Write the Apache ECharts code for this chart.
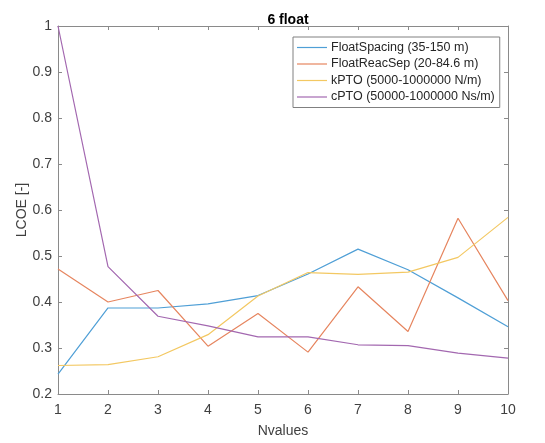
<!DOCTYPE html>
<html>
<head>
<meta charset="utf-8">
<script src="https://cdn.jsdelivr.net/npm/echarts@6/dist/echarts.min.js"></script>
<style>
  html, body { margin: 0; padding: 0; background: #fff; }
  #chart { width: 545px; height: 443px; }
</style>
</head>
<body>
<div id="chart"></div>
<script>
const nValues = [1, 2, 3, 4, 5, 6, 7, 8, 9, 10];
const floatSpacing = [0.243, 0.387, 0.387, 0.396, 0.414, 0.461, 0.515, 0.470, 0.409, 0.346];
const floatReacSep = [0.472, 0.400, 0.425, 0.304, 0.375, 0.291, 0.433, 0.336, 0.582, 0.403];
const kPTO = [0.262, 0.264, 0.281, 0.329, 0.413, 0.464, 0.460, 0.465, 0.497, 0.584];
const cPTO = [1.000, 0.477, 0.369, 0.348, 0.324, 0.324, 0.307, 0.305, 0.289, 0.278];
const seriesNames = [
  'FloatSpacing (35-150 m)',
  'FloatReacSep (20-84.6 m)',
  'kPTO (5000-1000000 N/m)',
  'cPTO (50000-1000000 Ns/m)'
];

const chart = echarts.init(document.getElementById('chart'));

const axisColor = '#8a8a8a';
const textColor = '#404040';
const font = '"Liberation Sans", Arial, sans-serif';

const pairs = (ys) => nValues.map((x, i) => [x, ys[i]]);

const makeLine = (name, ys, color) => ({
  name: name,
  type: 'line',
  data: pairs(ys),
  symbol: 'none',
  lineStyle: { color: color, width: 1.2 },
  itemStyle: { color: color },
  emphasis: { disabled: true },
  z: 3
});

const option = {
  backgroundColor: '#fff',
  animation: false,
  textStyle: { fontFamily: font },
  title: {
    text: '6 float',
    left: 283,
    textAlign: 'center',
    top: 8,
    textStyle: { fontSize: 14, fontWeight: 'bold', color: '#000', fontFamily: font }
  },
  grid: { left: 58, right: 37, top: 26, bottom: 47 },
  legend: {
    orient: 'vertical',
    left: 293,
    top: 37,
    icon: 'rect',
    itemWidth: 30,
    itemHeight: 1.2,
    itemGap: 3.5,
    padding: [4, 5, 4, 4],
    borderColor: '#808080',
    borderWidth: 1,
    backgroundColor: '#fff',
    textStyle: { fontSize: 12.5, lineHeight: 13, color: '#262626', fontFamily: font, padding: [0, 0, 0, -1] },
    data: seriesNames
  },
  xAxis: [
    {
      type: 'value',
      min: 1,
      max: 10,
      interval: 1,
      name: 'Nvalues',
      nameLocation: 'middle',
      nameGap: 30,
      nameMoveOverlap: false,
      nameTextStyle: { fontSize: 14, color: textColor },
      axisLine: { lineStyle: { color: axisColor } },
      axisTick: { inside: true, length: 4, lineStyle: { color: axisColor } },
      axisLabel: { fontSize: 14, color: textColor, margin: 9 },
      splitLine: { show: false }
    },
    {
      type: 'value',
      position: 'top',
      min: 1,
      max: 10,
      interval: 1,
      axisLine: { show: true, lineStyle: { color: axisColor } },
      axisTick: { inside: true, length: 4, lineStyle: { color: axisColor } },
      axisLabel: { show: false },
      splitLine: { show: false }
    }
  ],
  yAxis: [
    {
      type: 'value',
      min: 0.2,
      max: 1,
      interval: 0.1,
      name: 'LCOE [-]',
      nameLocation: 'middle',
      nameGap: 29,
      nameMoveOverlap: false,
      nameTextStyle: { fontSize: 14, color: textColor },
      axisLine: { show: true, lineStyle: { color: axisColor } },
      axisTick: { show: true, inside: true, length: 4, lineStyle: { color: axisColor } },
      axisLabel: {
        fontSize: 14,
        color: textColor,
        margin: 6,
        formatter: (v) => String(Math.round(v * 10) / 10)
      },
      splitLine: { show: false }
    },
    {
      type: 'value',
      position: 'right',
      min: 0.2,
      max: 1,
      interval: 0.1,
      axisLine: { show: true, lineStyle: { color: axisColor } },
      axisTick: { show: true, inside: true, length: 4, lineStyle: { color: axisColor } },
      axisLabel: { show: false },
      splitLine: { show: false }
    }
  ],
  series: [
    makeLine(seriesNames[0], floatSpacing, '#4f9fd6'),
    makeLine(seriesNames[1], floatReacSep, '#e6855f'),
    makeLine(seriesNames[2], kPTO, '#f3c862'),
    makeLine(seriesNames[3], cPTO, '#a368b0')
  ]
};

chart.setOption(option);
</script>
</body>
</html>
